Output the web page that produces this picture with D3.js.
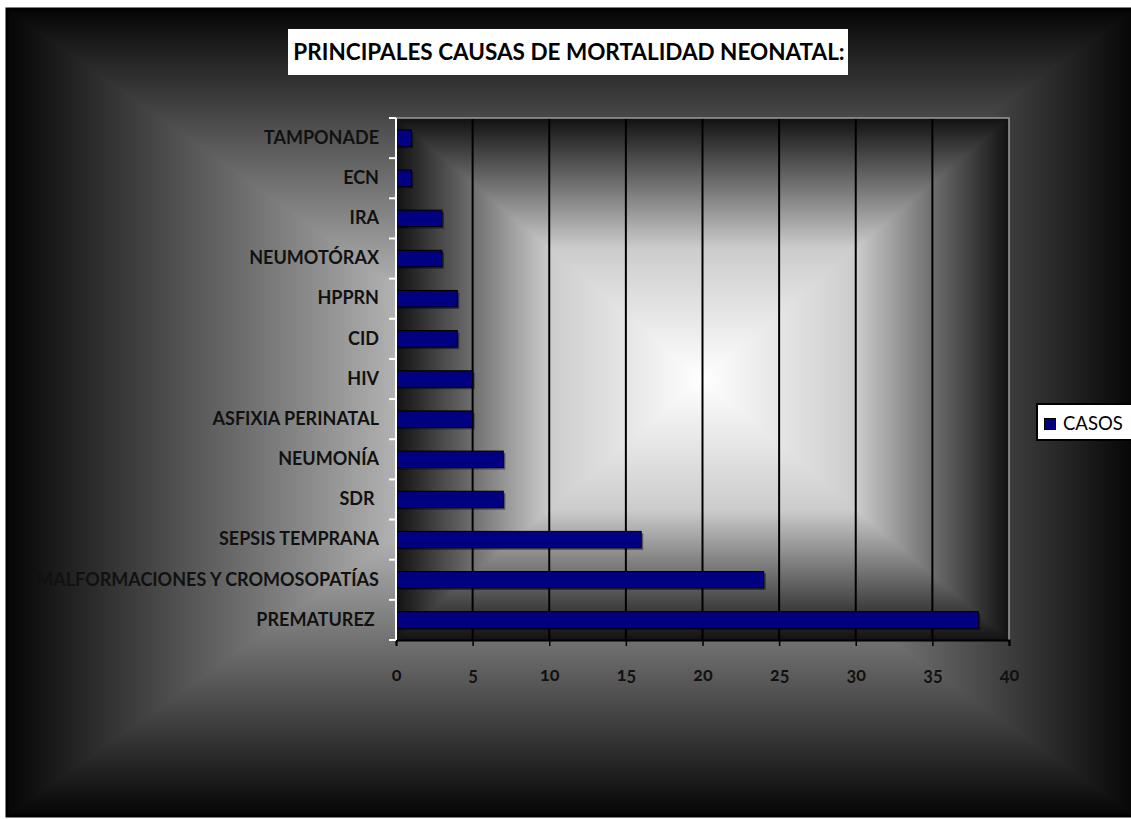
<html lang="es">
<head>
<meta charset="utf-8">
<title>Mortalidad neonatal</title>
<script src="https://d3js.org/d3.v7.min.js"></script>
<style>
  body { margin: 0; background: #fff; }
  .ylab text { white-space: pre; }
</style>
</head>
<body>
<div id="chart"></div>
<script>

// data (top to bottom as drawn)
var causas = ["TAMPONADE", "ECN", "IRA", "NEUMOTÓRAX", "HPPRN", "CID", "HIV",
  "ASFIXIA PERINATAL", "NEUMONÍA", "SDR ", "SEPSIS TEMPRANA",
  "MALFORMACIONES Y CROMOSOPATÍAS", "PREMATUREZ "];
var casos = [1, 1, 3, 3, 4, 4, 5, 5, 7, 7, 16, 24, 38];
var xTicks = [0, 5, 10, 15, 20, 25, 30, 35, 40];
var serie = "CASOS";
var titulo = "PRINCIPALES CAUSAS DE MORTALIDAD NEONATAL:";

var W = 1131, H = 819;
var plot = {left: 396, right: 1009, top: 118, bottom: 640};
var font = "Lato, 'DejaVu Sans', sans-serif";

var svg = d3.select("#chart").append("svg")
  .attr("width", W).attr("height", H);
var defs = svg.append("defs");

function makeGrad(id, a, b, stops) {
  var lg = defs.append("linearGradient")
    .attr("id", id)
    .attr("gradientUnits", "userSpaceOnUse")
    .attr("x1", a[0]).attr("y1", a[1])
    .attr("x2", b[0]).attr("y2", b[1]);
  stops.forEach(function(s) {
    lg.append("stop").attr("offset", s[0]).attr("stop-color", s[1]);
  });
}

// rectangular "from centre" gradient: left/right halves underneath,
// top/bottom triangles on top, so the diagonal seams have no gaps
function rectGradient(id, x0, y0, x1, y1, stops) {
  var cx = (x0 + x1) / 2, cy = (y0 + y1) / 2;
  var g = svg.append("g");
  makeGrad(id + "l", [x0, cy], [cx, cy], stops);
  makeGrad(id + "r", [x1, cy], [cx, cy], stops);
  makeGrad(id + "t", [cx, y0], [cx, cy], stops);
  makeGrad(id + "b", [cx, y1], [cx, cy], stops);
  g.append("rect").attr("x", x0).attr("y", y0)
    .attr("width", cx - x0 + 0.5).attr("height", y1 - y0)
    .attr("fill", "url(#" + id + "l)");
  g.append("rect").attr("x", cx).attr("y", y0)
    .attr("width", x1 - cx).attr("height", y1 - y0)
    .attr("fill", "url(#" + id + "r)");
  g.append("path")
    .attr("d", "M" + [[x0, y0], [x1, y0], [cx, cy]].join("L") + "Z")
    .attr("fill", "url(#" + id + "t)");
  g.append("path")
    .attr("d", "M" + [[x0, y1], [x1, y1], [cx, cy]].join("L") + "Z")
    .attr("fill", "url(#" + id + "b)");
  return g;
}

// chart area
rectGradient("outer", 7, 9, 1136, 816, [[0, "#050505"], [1, "#ffffff"]]);
svg.append("rect")
  .attr("x", 7).attr("y", 9).attr("width", 1129).attr("height", 807)
  .attr("fill", "none").attr("stroke", "#000").attr("stroke-width", 3);

// plot area
rectGradient("inner", plot.left, plot.top, plot.right, plot.bottom,
  [[0, "#111111"], [0.5, "#cccccc"], [1, "#ffffff"]]);

var x = d3.scaleLinear().domain([0, 40]).range([plot.left, plot.right]);
var y = d3.scaleBand().domain(causas).range([plot.top, plot.bottom]).padding(0);

// grid lines
svg.append("g").selectAll("line")
  .data(xTicks.filter(function(d) { return d > 0 && d < 40; }))
  .enter().append("line")
  .attr("x1", function(d) { return x(d); })
  .attr("x2", function(d) { return x(d); })
  .attr("y1", plot.top).attr("y2", plot.bottom)
  .attr("stroke", "#000").attr("stroke-width", 2);

// plot border (top / right)
svg.append("path")
  .attr("d", "M" + plot.left + "," + plot.top + "H" + plot.right + "V" + plot.bottom)
  .attr("fill", "none").attr("stroke", "#9a9a9a").attr("stroke-width", 1.5);

// bars
var barH = y.bandwidth() * 0.41;
var bars = svg.append("g");
bars.selectAll(".shadow")
  .data(causas).enter().append("rect")
  .attr("class", "shadow")
  .attr("x", x(0) + 2)
  .attr("y", function(d) { return y(d) + (y.bandwidth() - barH) / 2 + 2; })
  .attr("width", function(d, i) { return x(casos[i]) - x(0); })
  .attr("height", barH)
  .attr("fill", "#000").attr("opacity", 0.45);
bars.selectAll(".bar")
  .data(causas).enter().append("rect")
  .attr("class", "bar")
  .attr("x", x(0))
  .attr("y", function(d) { return y(d) + (y.bandwidth() - barH) / 2; })
  .attr("width", function(d, i) { return x(casos[i]) - x(0); })
  .attr("height", barH)
  .attr("fill", "#000080").attr("stroke", "#000").attr("stroke-width", 1);

// x axis
var xAxis = svg.append("g")
  .attr("transform", "translate(0," + plot.bottom + ")")
  .call(d3.axisBottom(x).tickValues(xTicks).tickSize(6).tickPadding(22));
xAxis.select(".domain").attr("stroke", "#000").attr("stroke-width", 2);
xAxis.selectAll(".tick line").attr("stroke", "#000").attr("stroke-width", 1.5);
xAxis.selectAll("text")
  .attr("fill", "#111")
  .style("font-family", font)
  .style("font-weight", "bold").style("font-size", "18px")
  .style("font-variant-numeric", "oldstyle-nums");

// y axis: labels at band centres, ticks at band edges
var yAxis = svg.append("g").attr("class", "ylab")
  .attr("transform", "translate(" + plot.left + ",0)")
  .call(d3.axisLeft(y).tickSize(0).tickPadding(17));
yAxis.select(".domain").remove();
yAxis.selectAll("text")
  .attr("fill", "#111")
  .style("font-family", font)
  .style("font-weight", "bold").style("font-size", "18px");

var edges = causas.map(function(d) { return y(d); }).concat([plot.bottom]);
svg.append("g").selectAll("line")
  .data(edges).enter().append("line")
  .attr("x1", plot.left - 7).attr("x2", plot.left)
  .attr("y1", function(d) { return d; }).attr("y2", function(d) { return d; })
  .attr("stroke", "#fff").attr("stroke-width", 2);
svg.append("line")
  .attr("x1", plot.left).attr("x2", plot.left)
  .attr("y1", plot.top).attr("y2", plot.bottom)
  .attr("stroke", "#fff").attr("stroke-width", 2);

// title
svg.append("rect")
  .attr("x", 288).attr("y", 29).attr("width", 560).attr("height", 46)
  .attr("fill", "#fff");
svg.append("text")
  .attr("x", 569).attr("y", 60)
  .attr("text-anchor", "middle")
  .style("font-family", font)
  .style("font-weight", "bold").style("font-size", "22.5px")
  .attr("fill", "#000")
  .text(titulo);

// legend
var leg = svg.append("g");
leg.append("rect")
  .attr("x", 1037).attr("y", 404).attr("width", 110).attr("height", 36)
  .attr("fill", "#fff").attr("stroke", "#000").attr("stroke-width", 2);
leg.append("rect")
  .attr("x", 1044.5).attr("y", 418.5).attr("width", 11).attr("height", 11)
  .attr("fill", "#000080").attr("stroke", "#000").attr("stroke-width", 1);
leg.append("text")
  .attr("x", 1063).attr("y", 430)
  .style("font-family", font)
  .style("font-size", "18.5px")
  .attr("fill", "#000")
  .text(serie);

</script>
</body>
</html>
